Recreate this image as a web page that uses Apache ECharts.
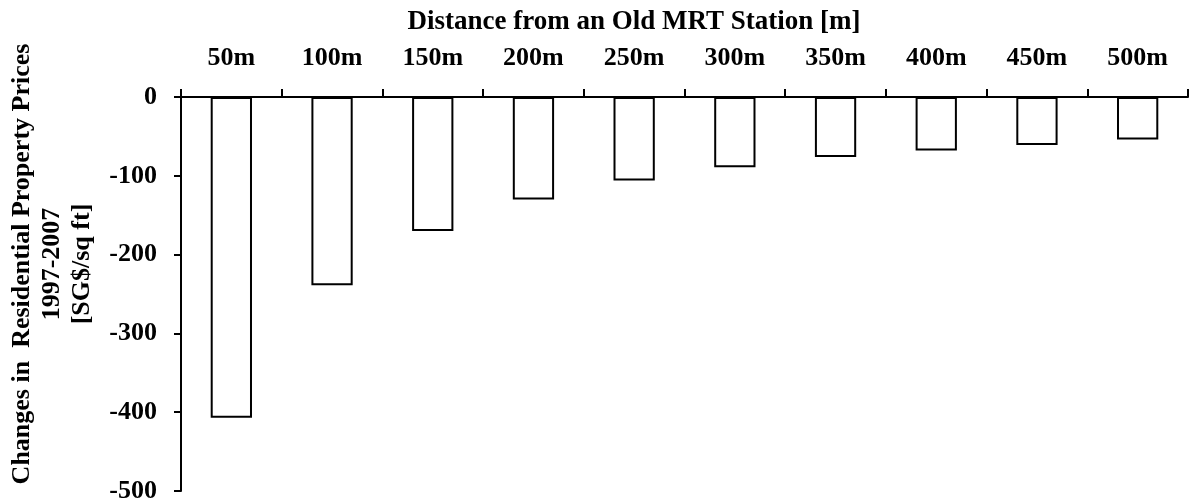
<!DOCTYPE html>
<html>
<head>
    <meta charset="utf-8">
    <script src="https://cdn.jsdelivr.net/npm/echarts@6/dist/echarts.min.js"></script>
    <style>
        html, body { margin: 0; padding: 0; background: #fff; }
    </style>
</head>
<body>
<div id="main" style="width: 1192px;height:504px;"></div>
<script type="text/javascript">

    // distance bands and price change (SG$/sq ft)
    var distances = ['50m', '100m', '150m', '200m', '250m', '300m', '350m', '400m', '450m', '500m'];
    var priceChange = [-407, -239, -170, -130, -106, -89, -76, -68, -61, -54];
    var yTicks = [0, -100, -200, -300, -400, -500];

    var serif = '"Liberation Serif", "Times New Roman", serif';

    var myChart = echarts.init(document.getElementById('main'));

    var option = {
        animation: false,
        backgroundColor: '#fff',
        grid: {
            left: 181,
            right: 4,
            top: 97,
            bottom: 12
        },
        graphic: [
            {
                type: 'text',
                x: 634,
                y: 22,
                style: {
                    text: 'Distance from an Old MRT Station [m]',
                    fontFamily: serif,
                    fontWeight: 'bold',
                    fontSize: 27,
                    fill: '#000',
                    align: 'center',
                    verticalAlign: 'middle'
                }
            },
            {
                type: 'text',
                x: 52,
                y: 264,
                rotation: Math.PI / 2,
                style: {
                    text: 'Changes in  Residential Property Prices\n1997-2007\n[SG$/sq ft]',
                    fontFamily: serif,
                    fontWeight: 'bold',
                    fontSize: 26,
                    fill: '#000',
                    align: 'center',
                    verticalAlign: 'middle',
                    lineHeight: 30
                }
            }
        ],
        xAxis: {
            type: 'category',
            position: 'top',
            data: distances,
            axisLine: { lineStyle: { color: '#000', width: 2 } },
            axisTick: { show: true, length: 8, lineStyle: { color: '#000', width: 2 } },
            axisLabel: {
                margin: 26,
                color: '#000',
                fontFamily: serif,
                fontWeight: 'bold',
                fontSize: 26
            },
            splitLine: { show: false }
        },
        yAxis: {
            type: 'value',
            min: -500,
            max: 0,
            interval: 100,
            axisLine: { show: true, lineStyle: { color: '#000', width: 2 } },
            axisTick: { show: true, length: 7, lineStyle: { color: '#000', width: 2 } },
            axisLabel: {
                margin: 24,
                color: '#000',
                fontFamily: serif,
                fontWeight: 'bold',
                fontSize: 26,
                formatter: function (v) {
                    return yTicks.indexOf(v) >= 0 ? String(v) : '';
                }
            },
            splitLine: { show: false }
        },
        series: [
            {
                type: 'bar',
                data: priceChange,
                barWidth: '41%',
                itemStyle: {
                    color: '#fff',
                    borderColor: '#000',
                    borderWidth: 2
                }
            }
        ]
    };

    myChart.setOption(option);

</script>
</body>
</html>
